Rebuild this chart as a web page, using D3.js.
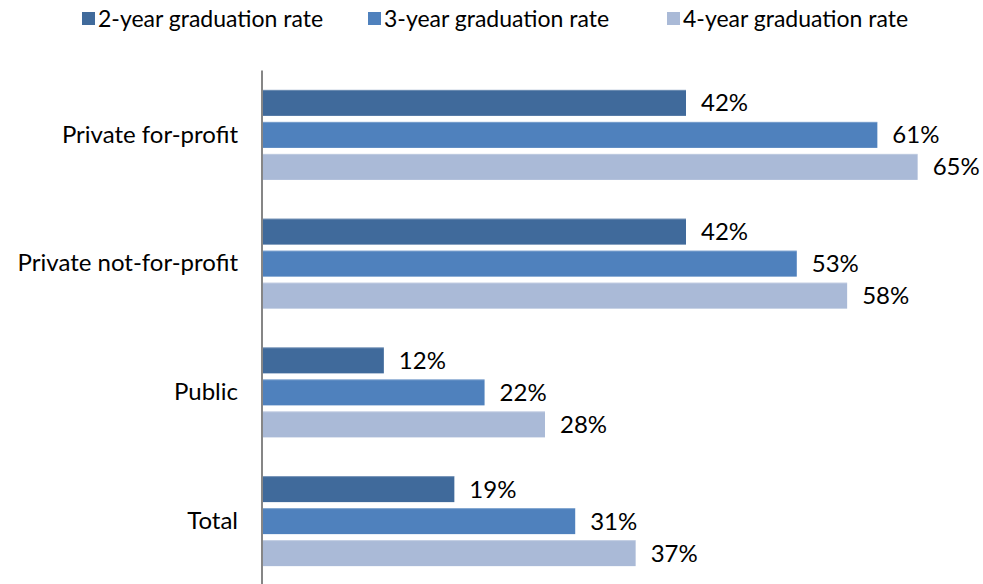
<!DOCTYPE html>
<html>
<head>
<meta charset="utf-8">
<script src="https://cdn.jsdelivr.net/npm/d3@7"></script>
<style>
  html, body { margin: 0; padding: 0; background: #fff; }
  svg { display: block; font-family: Lato, "Noto Sans", sans-serif; }
</style>
</head>
<body>
<svg id="chart" width="983" height="584"></svg>
<script>
// Graduation rates by institution type
const categories = ["Private for-profit", "Private not-for-profit", "Public", "Total"];
const seriesNames = ["2-year graduation rate", "3-year graduation rate", "4-year graduation rate"];
const rate2yr = [42, 42, 12, 19];
const rate3yr = [61, 53, 22, 31];
const rate4yr = [65, 58, 28, 37];
const seriesValues = [rate2yr, rate3yr, rate4yr];
const seriesColors = ["#406A9B", "#4F81BD", "#AABAD7"];

const svg = d3.select("#chart");

const x = d3.scaleLinear().domain([0, 70]).range([263, 968]);
const y0 = d3.scaleBand().domain(categories).range([70.5, 585.5]).paddingInner(0).paddingOuter(0);
const y1 = d3.scaleBand().domain(seriesNames).range([0, y0.bandwidth()])
  .paddingInner(0.1875).paddingOuter(0.605);

const rows = categories.map((c, i) => ({
  category: c,
  values: seriesNames.map((s, j) => ({ series: s, idx: j, value: seriesValues[j][i] }))
}));

const groups = svg.append("g").selectAll("g")
  .data(rows).join("g")
  .attr("transform", d => `translate(0,${y0(d.category)})`);

groups.selectAll("rect")
  .data(d => d.values).join("rect")
  .attr("x", x(0))
  .attr("y", d => y1(d.series))
  .attr("width", d => x(d.value) - x(0))
  .attr("height", y1.bandwidth())
  .attr("fill", d => seriesColors[d.idx]);

// thin highlight along the top edge of each bar
groups.selectAll("line.edge")
  .data(d => d.values).join("line")
  .attr("class", "edge")
  .attr("x1", x(0)).attr("x2", d => x(d.value))
  .attr("y1", d => y1(d.series) + 0.5).attr("y2", d => y1(d.series) + 0.5)
  .attr("stroke", "#ffffff").attr("stroke-opacity", 0.25);

groups.selectAll("text.val")
  .data(d => d.values).join("text")
  .attr("class", "val")
  .attr("x", d => x(d.value) + 15)
  .attr("y", d => y1(d.series) + y1.bandwidth() / 2)
  .attr("dy", "0.35em")
  .attr("font-size", 24)
  .attr("fill", "#000")
  .text(d => d.value + "%");

// category axis
const yAxis = d3.axisLeft(y0).tickSize(0).tickPadding(24);
const axisG = svg.append("g").attr("transform", `translate(${x(0) - 1},0)`).call(yAxis);
axisG.select(".domain").attr("stroke", "#868686").attr("stroke-width", 2)
  .attr("d", `M0,${y0.range()[0]}V${y0.range()[1]}`);
axisG.selectAll(".tick text").attr("font-size", 24).attr("fill", "#000")
  .attr("font-family", "Lato, 'Noto Sans', sans-serif");

// legend
const legendX = [82, 368, 667];
const legend = svg.append("g").selectAll("g")
  .data(seriesNames).join("g")
  .attr("transform", (d, i) => `translate(${legendX[i]},12)`);
legend.append("rect").attr("width", 13).attr("height", 13)
  .attr("fill", (d, i) => seriesColors[i]);
legend.append("text").attr("x", 16).attr("y", 6.5).attr("dy", "0.35em")
  .attr("font-size", 23).attr("fill", "#000")
  .text(d => d);
</script>
</body>
</html>
